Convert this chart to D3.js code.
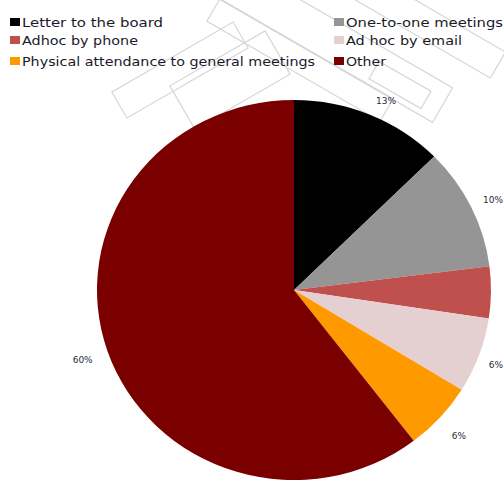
<!DOCTYPE html>
<html>
<head>
<meta charset="utf-8">
<script src="https://cdn.jsdelivr.net/npm/d3@7"></script>
<style>
  html, body { margin: 0; padding: 0; background: #fff; }
  svg { display: block; }
</style>
</head>
<body>
<svg id="chart" width="504" height="481"></svg>
<script>
// Share of engagement channels (percent)
const categories = [
  "Letter to the board",
  "One-to-one meetings",
  "Adhoc by phone",
  "Ad hoc by email",
  "Physical attendance to general meetings",
  "Other"
];
const values = [12.6, 10.4, 4.4, 6.4, 5.8, 60.4];
const colors = ["#000000", "#959595", "#c0504d", "#e4d0d1", "#ff9900", "#7a0000"];
// which slices carry a percentage label
const showLabel = [true, true, false, true, true, true];

// Legend layout: two columns, three rows
const legendOrder = [0, 1, 2, 3, 4, 5];
const legendWidths = [141, 157, 116, 116, 293, 40];

const svg = d3.select("#chart");
const W = 504, H = 481;

// faint stamp-like background outlines
const deco = svg.append("g").attr("fill", "none").attr("stroke", "#d6d6d6").attr("stroke-width", 1.2);
const rects = [
  {cx: 330, cy: 40, w: 260, h: 40, a: 30},
  {cx: 300, cy: 60, w: 200, h: 26, a: 30},
  {cx: 420, cy: 20, w: 180, h: 30, a: 30},
  {cx: 180, cy: 70, w: 140, h: 30, a: -30},
  {cx: 230, cy: 80, w: 110, h: 50, a: -30},
  {cx: 400, cy: 85, w: 60, h: 20, a: 30}
];
rects.forEach(r => {
  deco.append("rect")
    .attr("x", -r.w / 2).attr("y", -r.h / 2)
    .attr("width", r.w).attr("height", r.h)
    .attr("transform", `translate(${r.cx},${r.cy}) rotate(${r.a})`);
});

// Pie geometry (slightly wider than tall)
const cx = 294, cy = 290, ry = 190, rx = 197;
const sx = rx / ry;

const pie = d3.pie().sort(null).value(d => d)(values);
const arc = d3.arc().innerRadius(0).outerRadius(ry);

const g = svg.append("g").attr("transform", `translate(${cx},${cy}) scale(${sx},1)`);
g.selectAll("path.slice")
  .data(pie)
  .join("path")
  .attr("class", "slice")
  .attr("d", arc)
  .attr("fill", (d, i) => colors[i]);

// Percentage labels outside each slice
const total = d3.sum(values);
const labelR = 205;
svg.append("g")
  .selectAll("text")
  .data(pie.filter((d, i) => showLabel[i]))
  .join("text")
  .attr("font-family", "DejaVu Sans, sans-serif")
  .attr("font-size", 9)
  .attr("fill", "#2b2b3b")
  .text(d => Math.round(d.value / total * 100) + "%")
  .each(function (d) {
    const a = (d.startAngle + d.endAngle) / 2;
    const right = Math.sin(a) >= 0;
    let px = cx + Math.sin(a) * labelR * sx;
    let py = cy - Math.cos(a) * labelR;
    const c = Math.cos(a);
    py += 3 + (c < 0 ? -12 * c : 0);
    const w = this.getComputedTextLength();
    if (right) px = Math.min(px, W - 1 - w);
    else px = Math.max(px, 1 + w);
    d3.select(this)
      .attr("x", px)
      .attr("y", py)
      .attr("text-anchor", right ? "start" : "end");
  });

// Legend
const legend = svg.append("g");
const colX = [10, 334];
const rowY = [22, 40, 61];
legendOrder.forEach((idx, k) => {
  const col = k % 2, row = Math.floor(k / 2);
  const x = colX[col], y = rowY[row];
  legend.append("rect")
    .attr("x", x).attr("y", y - 4)
    .attr("width", 10).attr("height", 8)
    .attr("fill", colors[idx]);
  legend.append("text")
    .attr("x", x + 12).attr("y", y + 4.5)
    .attr("font-family", "DejaVu Sans, sans-serif")
    .attr("font-size", 12.5)
    .attr("fill", "#1a1a2a")
    .attr("textLength", legendWidths[idx])
    .attr("lengthAdjust", "spacingAndGlyphs")
    .text(categories[idx]);
});
</script>
</body>
</html>
